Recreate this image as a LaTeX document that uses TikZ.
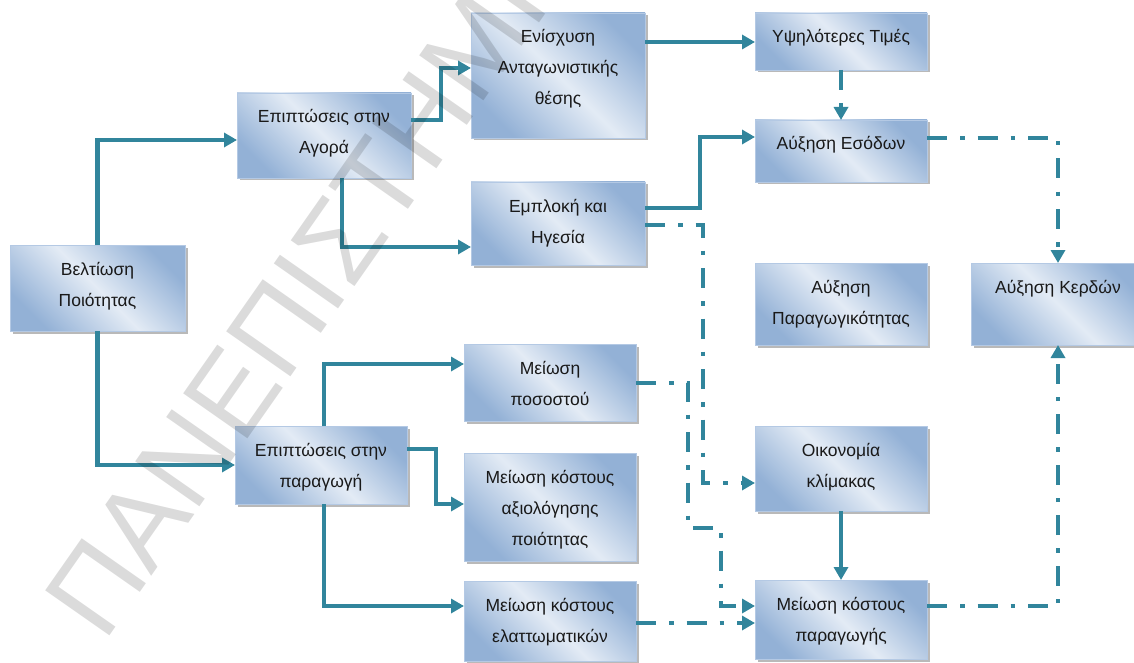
\documentclass[tikz,border=0pt]{standalone}
\usepackage{fontspec}
\setmainfont{Liberation Sans}
\usetikzlibrary{arrows.meta,shadows}

\definecolor{flowteal}{HTML}{31859C}
\definecolor{boxdark}{HTML}{93B1D6}
\definecolor{boxlight}{HTML}{E3EBF5}
\definecolor{boxedge}{HTML}{B4C9E4}

\tikzset{
  flowrect/.style={draw=boxedge, line width=0.8pt, inner sep=0pt, outer sep=0pt,
    top color=boxdark, bottom color=boxdark, middle color=boxlight, shading angle=-45,
    font=\fontsize{17.5pt}{31pt}\selectfont, text=black!90,
    drop shadow={shadow xshift=2.5pt, shadow yshift=-2.5pt, opacity=0.5, fill=black!55}},
  conn/.style={draw=flowteal, line width=4.5pt, -{Triangle[length=13pt,width=14pt]}},
  dd/.style={conn, dash pattern=on 20pt off 13pt on 4.5pt off 13pt},
  watermark/.style={rotate=55, anchor=base west, inner sep=0pt, text=black, opacity=0.14,
    font=\fontsize{114pt}{114pt}\selectfont},
}

% box from (x1,y1) to (x2,y2), text set from the top
\newcommand\flowbox[6]{%
  \node[flowrect] (#1) at ({(#2+#4)/2},{(#3+#5)/2})
    {\parbox[c][\dimexpr#5pt-#3pt\relax][t]{\dimexpr#4pt-#2pt\relax}{\centering\rule{0pt}{30pt}#6\par}};}

\begin{document}
\begin{tikzpicture}[x=1pt, y=-1pt]
\useasboundingbox (0,0) rectangle (1134,663);
\clip (0,0) rectangle (1134,663);

\flowbox{vel}{10}{245}{185}{331}{Βελτίωση\\Ποιότητας}
\flowbox{agora}{237}{93}{411}{178}{Επιπτώσεις στην\\Αγορά}
\flowbox{enis}{471}{13}{645}{138}{Ενίσχυση\\Ανταγωνιστικής\\θέσης}
\flowbox{ypsi}{755}{13}{927}{70}{Υψηλότερες Τιμές}
\flowbox{esod}{755}{120}{927}{182}{Αύξηση Εσόδων}
\flowbox{empl}{471}{182}{645}{265}{Εμπλοκή και\\Ηγεσία}
\flowbox{prod}{755}{263}{927}{345}{Αύξηση\\Παραγωγικότητας}
\flowbox{kerd}{971}{263}{1145}{345}{Αύξηση Κερδών}
\flowbox{posost}{464}{344}{636}{421}{Μείωση\\ποσοστού}
\flowbox{parag}{235}{426}{407}{504}{Επιπτώσεις στην\\παραγωγή}
\flowbox{axiol}{464}{453}{636}{561}{Μείωση κόστους\\αξιολόγησης\\ποιότητας}
\flowbox{elatt}{464}{581}{636}{661}{Μείωση κόστους\\ελαττωματικών}
\flowbox{oikon}{755}{426}{927}{511}{Οικονομία\\κλίμακας}
\flowbox{meiosi}{755}{580}{927}{659}{Μείωση κόστους\\παραγωγής}

% solid links
\draw[conn] (vel.north) |- (agora.west |- 0,140);
\draw[conn] (vel.south) |- (parag.west);
\draw[conn] (agora.east |- 0,120) -- ++(30,0) |- (enis.west |- 0,68);
\draw[conn] (agora.south -| 342,0) |- (empl.west |- 0,247);
\draw[conn] (enis.east |- 0,42) -- (ypsi.west |- 0,42);
\draw[conn] (empl.east |- 0,208) -- ++(55,0) |- (esod.west |- 0,137);
\draw[conn] (parag.north -| 324,0) |- (posost.west |- 0,364);
\draw[conn] (parag.east |- 0,449) -- ++(29,0) |- (axiol.west |- 0,504);
\draw[conn] (parag.south -| 324,0) |- (elatt.west |- 0,606);
\draw[conn] (oikon.south) -- (meiosi.north);

% dash-dot links
\draw[dd] (ypsi.south) -- (esod.north);
\draw[dd] (esod.east |- 0,138) -| (kerd.north);
\draw[dd] (empl.east |- 0,225) -- ++(58,0) |- (oikon.west |- 0,483);
\draw[dd] (posost.east |- 0,383) -| (688,528) -| (721,606) -- (meiosi.west |- 0,606);
\draw[dd] (elatt.east |- 0,623) -- (meiosi.west |- 0,623);
\draw[dd] (meiosi.east |- 0,606) -| (kerd.south);

% watermark
\node[watermark] (wm) at (104,644) {ΠΑΝΕΠΙΣΤΗΜΙΟ};
\end{tikzpicture}
\end{document}
